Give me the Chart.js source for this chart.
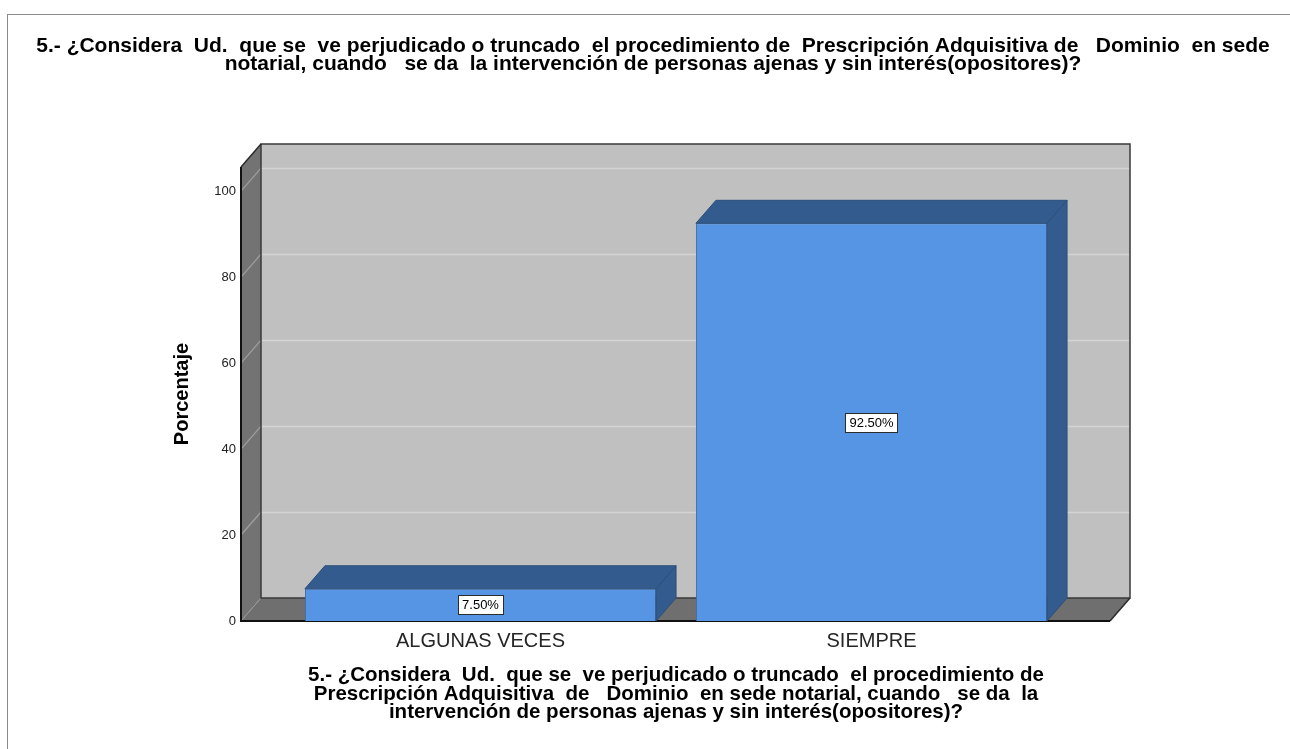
<!DOCTYPE html>
<html>
<head>
<meta charset="utf-8">
<script src="https://cdn.jsdelivr.net/npm/chart.js@4.4.0/dist/chart.umd.min.js"></script>
<style>
  html, body { margin: 0; padding: 0; background: #fff; }
</style>
</head>
<body>
<canvas id="grafico" width="1290" height="749"></canvas>
<script>
/** datos del grafico */
const categorias = ["ALGUNAS VECES", "SIEMPRE"];
const porcentajes = [7.5, 92.5];
const marcasEje = [0, 20, 40, 60, 80, 100];
const tituloGrafico = [
  "5.- ¿Considera  Ud.  que se  ve perjudicado o truncado  el procedimiento de  Prescripción Adquisitiva de   Dominio  en sede",
  "notarial, cuando   se da  la intervención de personas ajenas y sin interés(opositores)?"
];
const tituloEjeX = [
  "5.- ¿Considera  Ud.  que se  ve perjudicado o truncado  el procedimiento de",
  "Prescripción Adquisitiva  de   Dominio  en sede notarial, cuando   se da  la",
  "intervención de personas ajenas y sin interés(opositores)?"
];
const tituloEjeY = "Porcentaje";

/** profundidad del efecto 3D */
const dx = 20, dy = -23;
const fuente = 'Arial, "Liberation Sans", sans-serif';

function poligono(ctx, pts, relleno, borde, grosor) {
  ctx.beginPath();
  ctx.moveTo(pts[0][0], pts[0][1]);
  for (let i = 1; i < pts.length; i++) ctx.lineTo(pts[i][0], pts[i][1]);
  ctx.closePath();
  if (relleno) { ctx.fillStyle = relleno; ctx.fill(); }
  if (borde) { ctx.strokeStyle = borde; ctx.lineWidth = grosor || 1; ctx.stroke(); }
}
function linea(ctx, x1, y1, x2, y2, color, grosor) {
  ctx.beginPath();
  ctx.moveTo(x1, y1);
  ctx.lineTo(x2, y2);
  ctx.strokeStyle = color;
  ctx.lineWidth = grosor;
  ctx.stroke();
}

/** plugin que dibuja la caja 3D, las caras de las barras y el titulo */
const caja3d = {
  id: "caja3d",
  beforeDraw(chart) {
    const ctx = chart.ctx;
    ctx.save();
    ctx.fillStyle = "#fff";
    ctx.fillRect(0, 0, chart.width, chart.height);
    ctx.strokeStyle = "#8a8a8a";
    ctx.lineWidth = 1;
    ctx.strokeRect(7.5, 14.5, chart.width + 50, chart.height + 50);
    ctx.restore();
  },
  beforeDatasetsDraw(chart) {
    const ctx = chart.ctx, a = chart.chartArea, y = chart.scales.y;
    const L = a.left - 44, R = a.right + 43, T = a.top, B = a.bottom;
    ctx.save();
    // pared del fondo
    ctx.fillStyle = "#c0c0c0";
    ctx.fillRect(L + dx, T + dy, R - L, B - T);
    // pared izquierda
    poligono(ctx, [[L, B], [L, T], [L + dx, T + dy], [L + dx, B + dy]], "#737373");
    // piso
    poligono(ctx, [[L, B], [L + dx, B + dy], [R + dx, B + dy], [R, B]], "#6f6f6f");
    // lineas de grilla
    marcasEje.forEach(v => {
      if (v === 0) return;
      const p = y.getPixelForValue(v);
      linea(ctx, L + dx, p + dy + 0.5, R + dx, p + dy + 0.5, "#d4d4d4", 1.5);
      linea(ctx, L, p, L + dx, p + dy, "#a0a0a0", 1.2);
    });
    linea(ctx, L, B, L + dx, B + dy, "#9a9a9a", 1);
    // bordes
    ctx.strokeStyle = "#3a3a3a";
    ctx.lineWidth = 1.5;
    ctx.strokeRect(L + dx, T + dy, R - L, B - T);
    linea(ctx, L, T, L + dx, T + dy, "#2a2a2a", 1.5);
    linea(ctx, R, B, R + dx, B + dy, "#2a2a2a", 1.5);
    linea(ctx, L, T, L, B + 1, "#111", 2);
    linea(ctx, L - 1, B, R, B, "#111", 2);
    ctx.restore();
  },
  afterDatasetsDraw(chart) {
    const ctx = chart.ctx;
    ctx.save();
    chart.getDatasetMeta(0).data.forEach((barra, i) => {
      const p = barra.getProps(["x", "y", "base", "width"], true);
      const l = p.x - p.width / 2, r = p.x + p.width / 2;
      poligono(ctx, [[l, p.y], [l + dx, p.y + dy], [r + dx, p.y + dy], [r, p.y]], "#345b8d", "#2c4f7c", 1);
      poligono(ctx, [[r, p.y], [r + dx, p.y + dy], [r + dx, p.base + dy], [r, p.base]], "#345b8d", "#2c4f7c", 1);

      // etiqueta del valor
      const texto = porcentajes[i].toFixed(2) + "%";
      ctx.font = "13px " + fuente;
      const w = ctx.measureText(texto).width + 8, h = 19;
      const cx = p.x, cy = (p.y + p.base) / 2;
      ctx.fillStyle = "#fff";
      ctx.fillRect(Math.round(cx - w / 2) + 0.5, Math.round(cy - h / 2) + 0.5, Math.round(w), h);
      ctx.strokeStyle = "#2b2b2b";
      ctx.lineWidth = 1;
      ctx.strokeRect(Math.round(cx - w / 2) + 0.5, Math.round(cy - h / 2) + 0.5, Math.round(w), h);
      ctx.fillStyle = "#000";
      ctx.textAlign = "center";
      ctx.textBaseline = "middle";
      ctx.fillText(texto, cx, cy + 1);
    });
    ctx.restore();
  },
  afterDraw(chart) {
    const ctx = chart.ctx;
    ctx.save();
    ctx.font = "bold 21px " + fuente;
    ctx.fillStyle = "#000";
    ctx.textAlign = "center";
    ctx.textBaseline = "middle";
    tituloGrafico.forEach((t, i) => ctx.fillText(t, 653, 46 + i * 18.5));
    ctx.restore();
  }
};

Chart.defaults.font.family = fuente;

const ctx = document.getElementById("grafico").getContext("2d");
const grafico = new Chart(ctx, {
  type: "bar",
  data: {
    labels: categorias,
    datasets: [{
      label: "Porcentaje",
      data: porcentajes,
      backgroundColor: "#5595e4",
      borderColor: "#3f6ea9",
      borderWidth: 1,
      barPercentage: 0.898,
      categoryPercentage: 1
    }]
  },
  options: {
    responsive: false,
    animation: false,
    devicePixelRatio: 1,
    layout: { padding: { left: 160, right: 223, top: 167, bottom: 27 } },
    plugins: {
      legend: { display: false },
      tooltip: { enabled: false }
    },
    scales: {
      x: {
        grid: { display: false, drawTicks: false },
        border: { display: false },
        ticks: { color: "#262626", font: { size: 20 }, padding: 8 },
        title: {
          display: true,
          text: tituloEjeX,
          color: "#000",
          font: { size: 20.5, weight: "bold", lineHeight: "18.5px" },
          padding: 0
        },
        afterFit(s) { s.height = 101; }
      },
      y: {
        min: 0,
        max: 105.6,
        grid: { display: false, drawTicks: false },
        border: { display: false },
        afterBuildTicks(s) { s.ticks = marcasEje.map(v => ({ value: v })); },
        ticks: { color: "#222", font: { size: 13 }, padding: 49 },
        title: {
          display: true,
          text: tituloEjeY,
          color: "#000",
          font: { size: 20, weight: "bold" },
          padding: { top: 10, bottom: 0 }
        },
        afterFit(s) { s.width = 125; }
      }
    }
  },
  plugins: [caja3d]
});
</script>
</body>
</html>
